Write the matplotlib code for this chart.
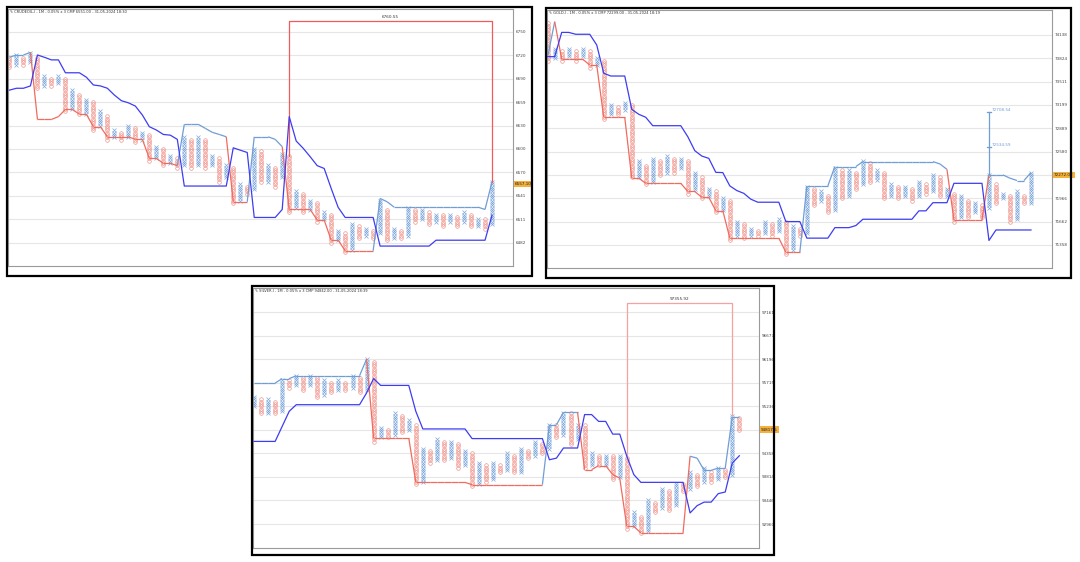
"""Three point & figure panels (crude, gold, silver) laid out like the dashboard screenshot."""

import matplotlib

matplotlib.use("Agg")
import matplotlib.pyplot as plt
import numpy as np
from matplotlib.collections import LineCollection
from matplotlib.patches import Rectangle
from matplotlib.transforms import blended_transform_factory

W, H, DPI = 1080, 562, 100

X_BLUE = "#7fa8dc"
O_RED = "#f08a80"
DARK_BLUE = "#3d3df2"
LIGHT_BLUE = "#6f9dd6"
TREND_RED = "#f06b5f"
GRID = "#e6e6e6"
CMP_ORANGE = "#f4b13e"

# ---- CRUDEOIL (values in boxes above the lowest grid line, 10 boxes per grid line)
CRUDE_TITLE = "\u270e CRUDEOIL-I - 1M - 0.05% x 3 CMP 6551.00 - 31-05-2024 18:30"
CRUDE_TICKS = ["6482", "6511", "6541", "6570", "6600", "6630", "6659", "6690", "6720", "6750"]
CRUDE_KIND = "OXOXOXOXOXOXOXOXOXOXOXOXOXOXOXOXOXOXOXOXOXOXOXOXOXOXOXOXOXOXOXOXOXOXOX"
CRUDE_LOW = [75, 76, 76, 77, 66, 67, 67, 68, 56, 57, 55, 55, 48, 50, 44, 45, 44, 45, 43, 44,
             35, 36, 33, 34, 32, 33, 32, 33, 32, 33, 26, 28, 17, 18, 21, 23, 26, 26, 24, 28,
             13, 15, 13, 14, 9, 10, 0, 1, -4, -3, 2, 3, 2, 4, 1, 2, 2, 3, 9, 10,
             8, 9, 7, 9, 7, 9, 7, 7, 6, 8]
CRUDE_HIGH = [79, 80, 79, 81, 79, 71, 70, 71, 70, 65, 63, 61, 60, 56, 54, 48, 47, 50, 49, 47,
              46, 41, 40, 37, 36, 45, 44, 45, 44, 37, 36, 33, 32, 25, 24, 40, 39, 33, 32, 38,
              37, 22, 21, 18, 17, 13, 12, 5, 4, 8, 7, 6, 5, 18, 14, 6, 5, 15, 14, 14,
              13, 12, 12, 12, 11, 13, 12, 10, 10, 26]
CRUDE_BAND = [65.1, 65.9, 65.9, 66.9, 80.1, 79.1, 78.0, 78.0, 72.5, 72.5, 72.5, 70.6, 67.3, 66.9,
              65.9, 63.0, 60.6, 59.7, 58.3, 54.5, 49.5, 48.1, 46.2, 45.9, 44.1, 24.2, 24.2, 24.2,
              24.2, 24.2, 24.2, 24.2, 40.5, 39.5, 38.5, 10.8, 10.8, 10.8, 10.8, 14.2, 53.8, 43.4,
              40.3, 36.7, 32.9, 31.7, 23.2, 15.1, 10.8, 10.8, 10.8, 10.8, 10.8, -1.4, -1.4, -1.4,
              -1.4, -1.4, -1.4, -1.4, -1.4, 1.1, 1.1, 1.1, 1.1, 1.1, 1.1, 1.1, 1.1, 11.8]
CRUDE_TRAIL = [79.1, 80.1, 80.1, 81.2, 52.6, 52.6, 52.6, 53.8, 56.9, 56.9, 54.8, 54.8, 49.5, 49.5,
               45.2, 45.2, 45.2, 45.2, 44.1, 44.1, 36.0, 36.0, 33.9, 33.9, 32.9, 50.5, 50.5, 50.5,
               48.8, 47.1, 46.2, 45.2, 17.5, 17.5, 17.5, 45.2, 45.2, 45.2, 44.1, 41.0, 14.2, 14.2,
               14.2, 14.2, 9.7, 9.7, 1.1, 1.1, -3.4, -3.4, -3.4, -3.4, -3.4, 18.9, 17.5, 15.2,
               15.2, 15.2, 15.2, 15.2, 15.2, 15.2, 15.2, 15.2, 15.2, 15.2, 15.2, 15.2, 14.2, 26.0]
CRUDE_SIDE = "uuuuddddddddddddddddddddduuuuuuudddu" "uuuuddddddddddddduuuuuuuuuuuuuuuuu"
CRUDE_CMP = (25.0, "6557.10")
CRUDE_TARGET = (40, 69, 94.5, 37, 26, "6760.55")

# ---- GOLD
GOLD_TITLE = "\u270e GOLD-I - 1M - 0.05% x 3 CMP 72299.00 - 31-05-2024 18:19"
GOLD_TICKS = ["71358", "71662", "71966", "72272", "72580", "72889", "73199", "73511", "73824", "74138"]
GOLD_KIND = "OXOXOXOXOXOXOXOXOXOXOXOXOXOXOXOXOXOXOXOXOXOXOXOXOXOXOXOXOXOXOXOXOXOXOX"
GOLD_LOW = [79, 80, 79, 81, 79, 81, 76, 77, 54, 56, 56, 58, 29, 29, 26, 27, 30, 31, 31, 33,
            22, 24, 20, 21, 14, 15, 2, 4, 3, 4, 4, 5, 4, 6, -4, -2, 4, 5, 17, 19,
            14, 15, 20, 21, 24, 26, 27, 28, 20, 21, 20, 21, 19, 21, 22, 23, 21, 21, 10, 12,
            12, 14, 12, 16, 18, 20, 10, 11, 18, 18]
GOLD_HIGH = [95, 84, 83, 84, 83, 84, 83, 80, 79, 60, 59, 61, 60, 36, 34, 37, 36, 38, 37, 37,
             36, 31, 29, 24, 23, 20, 19, 10, 9, 7, 6, 10, 9, 11, 10, 8, 7, 25, 24, 23,
             21, 33, 32, 32, 31, 36, 35, 32, 31, 26, 25, 25, 24, 27, 26, 30, 29, 24, 22, 21,
             19, 18, 17, 30, 26, 22, 21, 23, 21, 31]
GOLD_BAND = [80.7, 80.7, 91.1, 91.1, 90.3, 90.3, 90.3, 85.7, 73.6, 72.4, 72.4, 72.4, 58.1, 56.0,
             54.7, 51.1, 51.1, 51.1, 51.1, 51.1, 46.4, 40.4, 38.1, 37.1, 31.1, 31.0, 25.3, 23.3,
             22.1, 19.6, 18.3, 18.3, 18.3, 18.3, 10.0, 10.0, 10.0, 2.9, 2.9, 2.9, 2.9, 7.4,
             7.4, 7.4, 8.3, 11.0, 11.0, 11.0, 11.0, 11.0, 11.0, 11.0, 11.0, 14.6, 14.6, 18.1,
             18.1, 18.1, 26.4, 26.4, 26.4, 26.4, 26.4, 1.9, 6.4, 6.4, 6.4, 6.4, 6.4, 6.4]
GOLD_TRAIL = [80.7, 95.7, 79.6, 79.6, 79.6, 79.6, 77.1, 77.1, 54.7, 54.7, 54.7, 54.7, 28.6, 28.6,
              26.4, 26.4, 26.4, 26.4, 26.4, 26.4, 22.9, 22.9, 20.4, 20.4, 14.7, 14.7, 2.9, 2.9,
              2.9, 2.9, 2.9, 2.9, 2.9, 2.9, -3.1, -3.1, -3.1, 25.3, 25.3, 25.3, 25.3, 33.6,
              33.6, 33.6, 33.6, 35.7, 35.7, 35.7, 35.7, 35.7, 35.7, 35.7, 35.7, 35.7, 35.7, 35.7,
              34.7, 32.4, 10.7, 10.7, 10.7, 10.7, 10.7, 30.0, 30.0, 30.0, 28.6, 27.6, 27.6, 31.0]
GOLD_SIDE = "uuddddddddddddddddddddddddddddddddddd" "uuuuuuuuuuuuuuuuuuuuudddddduuuuuu"
GOLD_CMP = (30.0, "72272.07")
GOLD_PROJ_COL = 63
GOLD_PROJ_LEVELS = [30.0, 42.1, 57.1]
GOLD_PROJ_LABELS = ["", "72534.59", "72708.54"]

# ---- SILVER
SILVER_TITLE = "\u270e SILVER-I - 1M - 0.05% x 3 CMP 94842.00 - 31-05-2024 18:39"
SILVER_TICKS = ["92960", "93446", "93814", "94358", "94803", "95236", "95715", "96196", "96677", "97161"]
SILVER_KIND = "XOXOXOXOXOXOXOXOXOXOXOXOXOXOXOXOXOXOXOXOXOXOXOXOXOXOXOXOXOXOXOXOXOXOXO"
SILVER_LOW = [50, 47, 47, 47, 48, 58, 59, 57, 59, 54, 55, 56, 57, 57, 58, 56, 57, 35, 37, 37,
              38, 39, 40, 17, 18, 26, 27, 27, 28, 24, 25, 16, 17, 18, 19, 22, 23, 22, 22, 28,
              29, 30, 32, 37, 38, 34, 36, 24, 25, 25, 25, 19, 20, -2, -1, -4, -3, 5, 7, 6,
              8, 14, 15, 16, 18, 18, 19, 20, 21, 40]
SILVER_HIGH = [54, 53, 53, 52, 61, 61, 63, 62, 63, 62, 61, 60, 61, 60, 63, 62, 70, 69, 41, 40,
               47, 46, 44, 42, 32, 31, 36, 35, 35, 34, 31, 30, 26, 25, 26, 25, 30, 29, 32, 31,
               35, 34, 42, 42, 47, 47, 42, 42, 30, 29, 29, 29, 29, 28, 5, 3, 10, 9, 15, 14,
               17, 17, 22, 21, 24, 22, 24, 23, 46, 45]
SILVER_BAND = [35.1, 35.1, 35.1, 35.1, 41.5, 47.9, 50.7, 50.7, 50.7, 50.7, 50.7, 50.7, 50.7, 50.7,
               50.7, 50.7, 55.7, 61.8, 58.9, 58.9, 58.9, 58.9, 58.9, 47.9, 40.4, 40.4, 40.4, 40.4,
               40.4, 40.4, 40.4, 36.3, 36.3, 36.3, 36.3, 36.3, 36.3, 36.3, 36.3, 36.3, 36.3, 36.3,
               27.3, 28.0, 32.3, 32.3, 32.3, 46.5, 46.5, 43.6, 43.6, 38.2, 38.2, 28.8, 21.0, 17.7,
               17.7, 17.7, 17.7, 17.7, 17.7, 17.7, 4.7, 7.8, 9.3, 9.3, 12.9, 13.6, 25.9, 29.0]
SILVER_TRAIL = [59.9, 59.9, 59.9, 59.9, 61.8, 61.8, 63.0, 63.0, 63.0, 63.0, 63.0, 63.0, 63.0, 63.0,
                63.0, 63.0, 70.1, 36.5, 36.5, 36.5, 36.5, 36.5, 36.5, 17.7, 17.7, 17.7, 17.7, 17.7,
                17.7, 17.7, 17.7, 16.7, 16.7, 16.7, 16.7, 16.7, 16.7, 16.7, 16.7, 16.7, 16.7, 16.7,
                42.2, 42.2, 47.5, 47.5, 47.5, 23.1, 23.1, 24.8, 24.8, 21.0, 19.5, -1.0, -1.0, -3.8,
                -3.8, -3.8, -3.8, -3.8, -3.8, -3.8, 28.8, 28.0, 22.8, 22.8, 23.8, 23.8, 45.5, 45.5]
SILVER_SIDE = "uuuuuuuuuuuuuuuuuddddddddddddddddddddddddd" "uuuuudddddddddddddddduuuuuuuu"
SILVER_CMP = (40.1, "94817.5")
SILVER_TARGET = (53, 68, 94.0, 28, 46, "97355.92")


def add_border(fig, x0, y0, x1, y1):
    fig.add_artist(Rectangle((x0 / W, 1 - y1 / H), (x1 - x0) / W, (y1 - y0) / H,
                             transform=fig.transFigure, fill=False, ec="black", lw=1.6))


def make_axes(fig, left, top, right, bottom):
    return fig.add_axes([left / W, 1 - bottom / H, (right - left) / W, (bottom - top) / H])


def draw_panel(ax, title, ticks, kinds, lows, highs, band, trail, side, cmp, xlim, ylim):
    ax.set_xlim(*xlim)
    ax.set_ylim(*ylim)
    ax.set_xticks([])
    positions = np.arange(0, 10 * len(ticks), 10)
    # the price tag sits on top of the grid label it covers, so that label is left blank
    labels = ["" if abs(p - cmp[0]) < 3 else t for p, t in zip(positions, ticks)]
    ax.set_yticks(positions)
    ax.set_yticklabels(labels)
    ax.yaxis.tick_right()
    ax.tick_params(axis="y", length=0, labelsize=3, pad=2, colors="#444444")
    ax.grid(axis="y", color=GRID, lw=0.8)
    ax.set_axisbelow(True)
    for spine in ax.spines.values():
        spine.set_color("#9a9a9a")
        spine.set_linewidth(0.8)

    xs_x, ys_x, xs_o, ys_o = [], [], [], []
    for i, kind in enumerate(kinds):
        ys = np.arange(lows[i], highs[i] + 1)
        if kind == "X":
            xs_x.extend([i] * len(ys))
            ys_x.extend(ys)
        else:
            xs_o.extend([i] * len(ys))
            ys_o.extend(ys)
    ax.plot(xs_x, ys_x, ls="none", marker="x", ms=2.6, mew=0.5, color=X_BLUE, zorder=2)
    ax.plot(xs_o, ys_o, ls="none", marker="o", ms=2.6, mew=0.45, mfc="none", mec=O_RED, zorder=2)

    cols = np.arange(len(band))
    ax.plot(cols, band, color=DARK_BLUE, lw=0.9, zorder=4)
    segs = [[(i - 1, trail[i - 1]), (i, trail[i])] for i in range(1, len(trail))]
    colors = [LIGHT_BLUE if side[i] == "u" else TREND_RED for i in range(1, len(trail))]
    ax.add_collection(LineCollection(segs, colors=colors, lw=0.9, zorder=3))

    ax.text(0.004, 0.995, title, transform=ax.transAxes, ha="left", va="top",
            fontsize=2.6, color="#333333")
    trans = blended_transform_factory(ax.transAxes, ax.transData)
    ax.text(1.004, cmp[0], cmp[1], transform=trans, ha="left", va="center", fontsize=3,
            color="#222222", clip_on=False, zorder=10,
            bbox=dict(boxstyle="square,pad=0.3", fc=CMP_ORANGE, ec="none"))


def draw_target(ax, target, color):
    c0, c1, level, left_base, right_base, label = target
    ax.plot([c0, c0, c1, c1], [left_base, level, level, right_base], color=color, lw=0.9, zorder=3)
    ax.text((c0 + c1) / 2, level + 0.8, label, ha="center", va="bottom", fontsize=3,
            color="#333333")


def main():
    fig = plt.figure(figsize=(W / DPI, H / DPI), dpi=DPI)
    fig.patch.set_facecolor("white")

    ax1 = make_axes(fig, 8, 9, 513, 266)
    draw_panel(ax1, CRUDE_TITLE, CRUDE_TICKS, CRUDE_KIND, CRUDE_LOW, CRUDE_HIGH, CRUDE_BAND,
               CRUDE_TRAIL, CRUDE_SIDE, CRUDE_CMP, (-0.21, 72.0), (-9.9, 99.7))
    draw_target(ax1, CRUDE_TARGET, "#f05a5a")
    add_border(fig, 7, 7, 532, 276)

    ax2 = make_axes(fig, 547, 10, 1052, 268)
    draw_panel(ax2, GOLD_TITLE, GOLD_TICKS, GOLD_KIND, GOLD_LOW, GOLD_HIGH, GOLD_BAND,
               GOLD_TRAIL, GOLD_SIDE, GOLD_CMP, (-0.1, 72.0), (-9.9, 100.7))
    c = GOLD_PROJ_COL
    ax2.plot([c, c], [GOLD_PROJ_LEVELS[0], GOLD_PROJ_LEVELS[-1]], color=LIGHT_BLUE, lw=0.9, zorder=4)
    for lvl, lab in zip(GOLD_PROJ_LEVELS[1:], GOLD_PROJ_LABELS[1:]):
        ax2.plot([c - 0.35, c + 0.35], [lvl, lvl], color=LIGHT_BLUE, lw=0.9, zorder=4)
        ax2.text(c + 0.4, lvl, lab, ha="left", va="bottom", fontsize=3, color=LIGHT_BLUE)
    add_border(fig, 546, 8, 1071, 278)

    ax3 = make_axes(fig, 253, 288, 759, 548)
    draw_panel(ax3, SILVER_TITLE, SILVER_TICKS, SILVER_KIND, SILVER_LOW, SILVER_HIGH, SILVER_BAND,
               SILVER_TRAIL, SILVER_SIDE, SILVER_CMP, (-0.15, 71.8), (-10.2, 100.3))
    draw_target(ax3, SILVER_TARGET, "#f4a3a0")
    add_border(fig, 252, 286, 774, 555)

    fig.savefig("out.png", dpi=DPI, facecolor="white")
    plt.close(fig)


if __name__ == "__main__":
    main()
